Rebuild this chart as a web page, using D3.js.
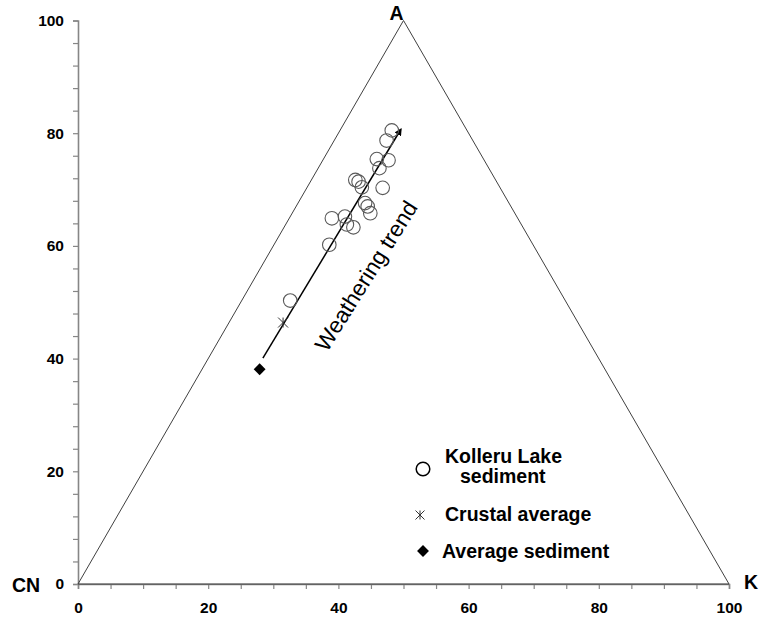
<!DOCTYPE html>
<html>
<head>
<meta charset="utf-8">
<script src="https://cdn.jsdelivr.net/npm/d3@7"></script>
<style>
  body { margin: 0; background: #fff; }
  svg { font-family: "Liberation Sans", Arial, sans-serif; }
</style>
</head>
<body>
<svg id="chart" width="763" height="621"></svg>
<script>
// A-CN-K ternary, plotted on plain x/y as in the original spreadsheet
const xTicks = d3.range(0, 101, 5);
const yTicks = d3.range(0, 101, 4);
const tickLabels = [0, 20, 40, 60, 80, 100];

const triangle = [[0, 0], [50, 100], [100, 0], [0, 0]];
const corners = [
  { name: 'CN', x: 0, y: 0 },
  { name: 'A', x: 50, y: 100 },
  { name: 'K', x: 100, y: 0 }
];

const kollX = [48.2, 47.4, 47.7, 45.9, 46.3, 42.6, 43.1, 43.6, 46.8, 44.1, 44.5, 44.9, 39.0, 41.0, 41.3, 42.3, 38.6, 32.6];
const kollY = [80.5, 78.7, 75.2, 75.4, 73.8, 71.7, 71.4, 70.4, 70.3, 67.6, 67.0, 65.8, 64.9, 65.2, 63.8, 63.3, 60.2, 50.3];

const crustal = [31.5, 46.4];
const avgSediment = [27.9, 38.1];
const trendFrom = [28.4, 40.1];
const trendTo = [49.6, 80.7];

const svg = d3.select('#chart');

const x = d3.scaleLinear().domain([0, 100]).range([78, 729]);
const y = d3.scaleLinear().domain([0, 100]).range([584, 20.5]);

const fmt = d => tickLabels.includes(d) ? d : '';

// axes
const xAxis = svg.append('g')
  .attr('transform', `translate(0,${y(0)})`)
  .call(d3.axisBottom(x).tickValues(xTicks).tickFormat(fmt).tickSize(5).tickPadding(13));
const yAxis = svg.append('g')
  .attr('transform', `translate(${x(0)},0)`)
  .call(d3.axisLeft(y).tickValues(yTicks).tickFormat(fmt).tickSize(5).tickPadding(9));

[xAxis, yAxis].forEach(a => {
  a.select('.domain').attr('stroke', '#868686').attr('stroke-width', 1.6);
  a.selectAll('.tick line').attr('stroke', '#868686').attr('stroke-width', 1.2);
  a.selectAll('.tick text')
    .attr('fill', '#000')
    .style('font-size', '15.5px')
    .style('font-weight', 'bold')
    .style('font-family', '"Liberation Sans", Arial, sans-serif');
});

// triangle
const line = d3.line().x(d => x(d[0])).y(d => y(d[1]));
svg.append('path')
  .attr('d', line(triangle))
  .attr('fill', 'none')
  .attr('stroke', '#404040')
  .attr('stroke-width', 1);

// corner labels
const cornerPos = {
  CN: { dx: -66, dy: 8, anchor: 'start' },
  A: { dx: -7, dy: -1, anchor: 'middle' },
  K: { dx: 15, dy: 5, anchor: 'start' }
};
svg.selectAll('.corner')
  .data(corners)
  .enter()
  .append('text')
  .attr('class', 'corner')
  .attr('x', d => x(d.x) + cornerPos[d.name].dx)
  .attr('y', d => y(d.y) + cornerPos[d.name].dy)
  .attr('text-anchor', d => cornerPos[d.name].anchor)
  .style('font-size', '19.5px')
  .style('font-weight', 'bold')
  .text(d => d.name);

// weathering trend arrow
svg.append('defs').append('marker')
  .attr('id', 'arrow')
  .attr('viewBox', '0 0 10 10')
  .attr('refX', 8).attr('refY', 5)
  .attr('markerWidth', 5).attr('markerHeight', 5)
  .attr('orient', 'auto')
  .append('path')
  .attr('d', 'M0,0L10,5L0,10z')
  .attr('fill', '#000');

svg.append('line')
  .attr('x1', x(trendFrom[0])).attr('y1', y(trendFrom[1]))
  .attr('x2', x(trendTo[0])).attr('y2', y(trendTo[1]))
  .attr('stroke', '#000')
  .attr('stroke-width', 1.5)
  .attr('marker-end', 'url(#arrow)');

const ang = Math.atan2(y(trendTo[1]) - y(trendFrom[1]), x(trendTo[0]) - x(trendFrom[0])) * 180 / Math.PI;
svg.append('text')
  .attr('transform', `translate(327,353) rotate(${ang + 1})`)
  .style('font-size', '22.5px')
  .attr('fill', '#000')
  .text('Weathering trend');

// markers
function star(g, cx, cy, r) {
  g.append('path')
    .attr('d', `M${cx - r},${cy - r}L${cx + r},${cy + r}M${cx - r},${cy + r}L${cx + r},${cy - r}M${cx},${cy - r}L${cx},${cy + r}`)
    .attr('stroke', '#333')
    .attr('stroke-width', 1)
    .attr('fill', 'none');
}
const diamond = d3.symbol().type(d3.symbolDiamond2).size(90);

svg.selectAll('.koll')
  .data(kollX.map((d, i) => [d, kollY[i]]))
  .enter()
  .append('circle')
  .attr('class', 'koll')
  .attr('cx', d => x(d[0]))
  .attr('cy', d => y(d[1]))
  .attr('r', 6.8)
  .attr('fill', 'none')
  .attr('stroke', '#595959')
  .attr('stroke-width', 1.1);

star(svg, x(crustal[0]), y(crustal[1]), 5);

svg.append('path')
  .attr('d', diamond())
  .attr('transform', `translate(${x(avgSediment[0])},${y(avgSediment[1])})`)
  .attr('fill', '#000');

// legend
const lg = svg.append('g');
lg.append('circle').attr('cx', 423).attr('cy', 469).attr('r', 6.8)
  .attr('fill', 'none').attr('stroke', '#000').attr('stroke-width', 1.5);
star(lg, 420, 515, 4.5);
lg.append('path').attr('d', diamond()).attr('transform', 'translate(423,551)').attr('fill', '#000');

const legendText = [
  { t: 'Kolleru Lake', x: 445, y: 463 },
  { t: 'sediment', x: 460, y: 483 },
  { t: 'Crustal average', x: 445, y: 521 },
  { t: 'Average sediment', x: 442, y: 558 }
];
lg.selectAll('text')
  .data(legendText)
  .enter()
  .append('text')
  .attr('x', d => d.x)
  .attr('y', d => d.y)
  .style('font-size', '19.5px')
  .style('font-weight', 'bold')
  .text(d => d.t);
</script>
</body>
</html>
